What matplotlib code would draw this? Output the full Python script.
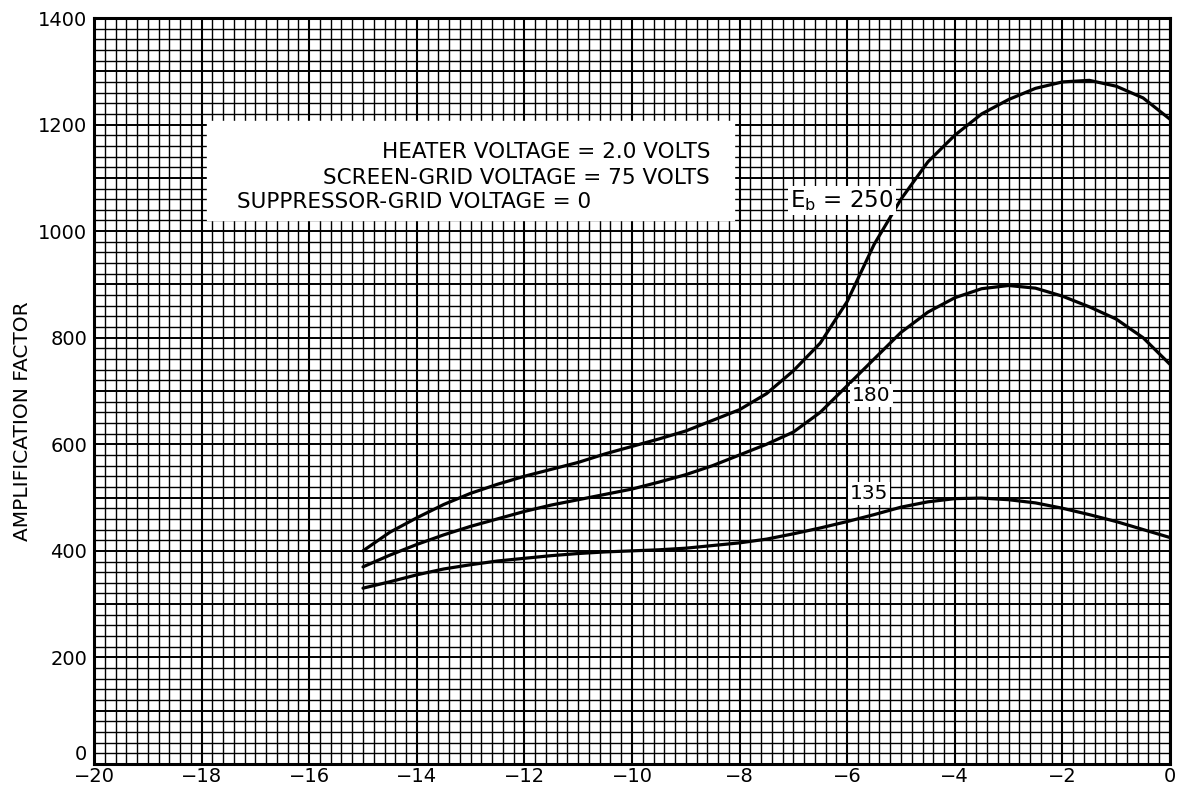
import matplotlib.pyplot as plt
import numpy as np

# grid bias (volts) and amplification factor for three plate voltages
grid_bias = [-15, -14.5, -14, -13.5, -13, -12.5, -12, -11.5, -11, -10.5, -10,
             -9.5, -9, -8.5, -8, -7.5, -7, -6.5, -6, -5.5, -5, -4.5, -4,
             -3.5, -3, -2.5, -2, -1.5, -1, -0.5, 0]

mu_250 = [400, 435, 462, 487, 508, 525, 540, 553, 566, 582, 596,
          610, 625, 645, 665, 695, 738, 790, 868, 975, 1060, 1130, 1180,
          1220, 1247, 1268, 1280, 1283, 1272, 1250, 1210]

mu_180 = [370, 392, 412, 430, 446, 460, 474, 486, 496, 506, 516,
          529, 543, 560, 580, 600, 623, 660, 710, 760, 810, 848, 875,
          892, 898, 893, 878, 858, 835, 800, 750]

mu_135 = [330, 342, 355, 366, 374, 381, 386, 391, 395, 398, 400,
          402, 405, 410, 415, 422, 432, 443, 455, 468, 482, 492, 498,
          499, 496, 490, 480, 468, 455, 440, 425]

x_ticks = [-20, -18, -16, -14, -12, -10, -8, -6, -4, -2, 0]
y_ticks = [0, 200, 400, 600, 800, 1000, 1200, 1400]

notes = ["HEATER VOLTAGE = 2.0 VOLTS",
         "SCREEN-GRID VOLTAGE = 75 VOLTS",
         "SUPPRESSOR-GRID VOLTAGE = 0"]

plt.rcParams['font.family'] = 'DejaVu Sans'

fig = plt.figure(figsize=(11.86, 7.86), dpi=100)
ax = fig.add_axes([94 / 1186, 22 / 786, 1076 / 1186, 746 / 786])

ax.set_xlim(-20, 0)
ax.set_ylim(0, 1400)

# graph-paper grid: fine rule every 0.2 V / 20, heavier rule on the majors
for x in np.arange(-20, 0.01, 0.2):
    heavy = abs(x - round(x / 2) * 2) < 1e-6
    ax.axvline(x, color='black', lw=1.5 if heavy else 1.0, zorder=1)
for y in np.arange(0, 1400.1, 20):
    heavy = abs(y - round(y / 100) * 100) < 1e-6
    ax.axhline(y, color='black', lw=1.4 if heavy else 1.0, zorder=1)

# white panel with the operating conditions
ax.fill_between([-17.9, -8.1], 1020, 1206, color='white', zorder=2)
ax.text(-8.55, 1148, notes[0], ha='right', va='center', fontsize=15.5, zorder=3)
ax.text(-8.55, 1100, notes[1], ha='right', va='center', fontsize=15.5, zorder=3)
ax.text(-17.35, 1054, notes[2], ha='left', va='center', fontsize=15.5, zorder=3)

for mu in (mu_250, mu_180, mu_135):
    ax.plot(grid_bias, mu, color='black', lw=2.3, solid_joinstyle='round',
            solid_capstyle='round', zorder=4, clip_on=False)

label_box = dict(facecolor='white', edgecolor='none', pad=1.5)
ax.text(-6.1, 1058, r'E$_\mathregular{b}$ = 250', ha='center', va='center',
        fontsize=16.5, bbox=label_box, zorder=5)
ax.text(-5.55, 692, '180', ha='center', va='center', fontsize=14.5,
        bbox=label_box, zorder=5)
ax.text(-5.6, 507, '135', ha='center', va='center', fontsize=14.5,
        bbox=label_box, zorder=5)

ax.set_xticks(x_ticks)
ax.set_xticklabels([str(t).replace('-', '\u2212') for t in x_ticks])
ax.set_yticks(y_ticks)
ax.tick_params(length=0, labelsize=14)
ax.tick_params(axis='y', pad=5)
ax.tick_params(axis='x', pad=2)
ax.get_yticklabels()[0].set_va('bottom')
ax.grid(False)

for side in ax.spines.values():
    side.set_linewidth(2.2)
    side.set_zorder(6)

ax.set_ylabel('AMPLIFICATION FACTOR', fontsize=14.5)
ax.yaxis.set_label_coords(-0.058, 0.46)

fig.savefig('out.png', dpi=100)
